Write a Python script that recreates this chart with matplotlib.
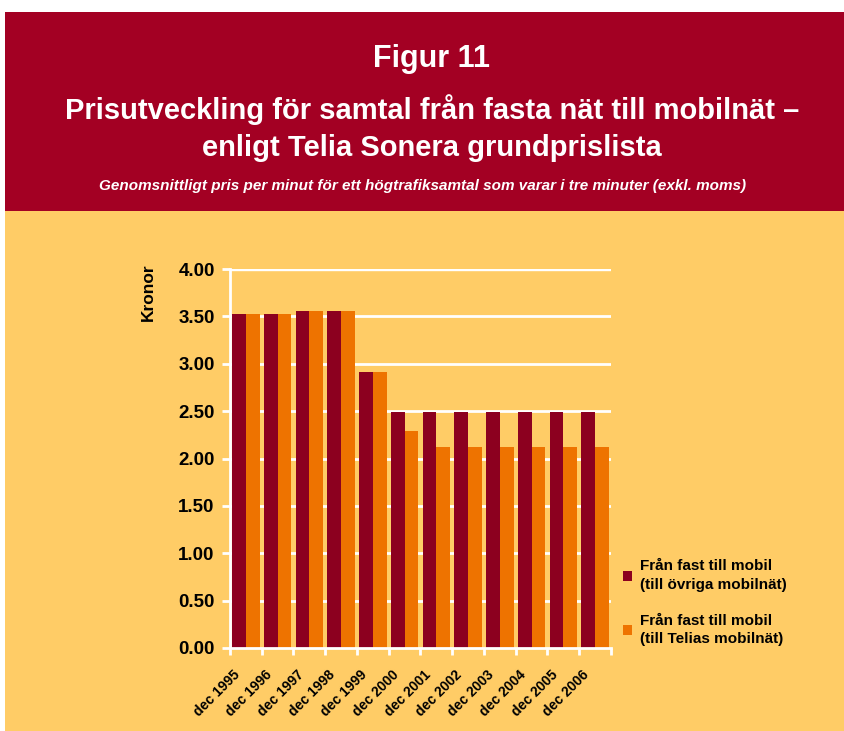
import matplotlib
matplotlib.use("Agg")
import matplotlib.pyplot as plt
import numpy as np
from matplotlib.patches import Rectangle
import matplotlib.transforms as mtransforms

categories = ["dec 1995", "dec 1996", "dec 1997", "dec 1998", "dec 1999", "dec 2000",
              "dec 2001", "dec 2002", "dec 2003", "dec 2004", "dec 2005", "dec 2006"]
ovriga = [3.53, 3.53, 3.56, 3.56, 2.91, 2.49, 2.49, 2.49, 2.49, 2.49, 2.49, 2.49]
telia = [3.53, 3.53, 3.56, 3.56, 2.91, 2.29, 2.12, 2.12, 2.12, 2.12, 2.12, 2.12]
series_names = ["Från fast till mobil\n(till övriga mobilnät)",
                "Från fast till mobil\n(till Telias mobilnät)"]
yticks = [0.0, 0.5, 1.0, 1.5, 2.0, 2.5, 3.0, 3.5, 4.0]

plt.rcParams['font.family'] = ['Liberation Sans', 'DejaVu Sans']

W, H = 845, 731
fig = plt.figure(figsize=(W / 100, H / 100), dpi=100)
fig.patch.set_facecolor("white")

RED = "#A30023"
YEL = "#FFCC66"
BAR_RED = "#8C001F"
BAR_OR = "#EE7300"

def fx(px):
    return px / W

def fy(py):
    return 1 - py / H

# background panels
fig.add_artist(Rectangle((fx(5), fy(211)), fx(840), (211 - 12) / H, transform=fig.transFigure,
                         facecolor=RED, edgecolor="none", zorder=0))
fig.add_artist(Rectangle((fx(5), 0), fx(840), fy(211), transform=fig.transFigure,
                         facecolor=YEL, edgecolor="none", zorder=0))

fig.text(fx(432), fy(59), "Figur 11", color="white", fontsize=22, fontweight="bold",
         ha="center", va="center")
fig.text(fx(432), fy(128), "Prisutveckling för samtal från fasta nät till mobilnät –\nenligt Telia Sonera grundprislista",
         color="white", fontsize=21, fontweight="bold", ha="center", va="center", linespacing=1.38)
fig.text(fx(423), fy(186), "Genomsnittligt pris per minut för ett högtrafiksamtal som varar i tre minuter (exkl. moms)",
         color="white", fontsize=11, fontweight="bold", style="italic", ha="center", va="center")

# axes: x 230..611, y 269..648
ax = fig.add_axes([fx(230), fy(648), fx(611 - 230), (648 - 269) / H])
ax.set_facecolor("none")
x = np.arange(len(categories))
bw = 0.43
ax.bar(x - bw / 2, ovriga, width=bw, color=BAR_RED, label=series_names[0], zorder=3)
ax.bar(x + bw / 2, telia, width=bw, color=BAR_OR, label=series_names[1], zorder=3)

ax.set_xlim(-0.5, len(categories) - 0.5)
ax.set_ylim(0, 4.0)
ax.set_yticks(yticks)
ax.set_yticklabels([f"{v:.2f}" for v in yticks], fontsize=13.5, fontweight="bold")
for v in yticks[1:]:
    ax.axhline(v, color="white", lw=2, zorder=1)
ax.axhline(3.985, color="white", lw=1, zorder=1)

for s in ["top", "right"]:
    ax.spines[s].set_visible(False)
for s in ["left", "bottom"]:
    ax.spines[s].set_color("white")
    ax.spines[s].set_linewidth(2)
    ax.spines[s].set_zorder(4)

ax.tick_params(axis="y", colors="white", length=6, width=2, labelcolor="black", pad=5)
ax.set_xticks(x)
ax.set_xticklabels(categories, rotation=45, ha="right", rotation_mode="anchor",
                   fontsize=10, fontweight="bold")
ax.tick_params(axis="x", length=0, labelcolor="black", pad=10)
offset = mtransforms.ScaledTranslation(-13 / 100, -6 / 100, fig.dpi_scale_trans)
for lab in ax.get_xticklabels():
    lab.set_transform(lab.get_transform() + offset)
ax.set_xticks(np.arange(-0.5, len(categories), 1.0), minor=True)
ax.tick_params(axis="x", which="minor", colors="white", length=5, width=2)

ax.set_ylabel("Kronor", fontsize=12.5, fontweight="bold")
ax.yaxis.set_label_coords(-0.195, 0.94)

leg = ax.legend(loc="upper left", bbox_to_anchor=(0.995, 0.27), frameon=False,
                prop={"weight": "bold", "size": 11}, handlelength=0.6, handleheight=0.6,
                handletextpad=0.5, labelspacing=1.45)
for t in leg.get_texts():
    t.set_linespacing(1.4)

fig.savefig("out.png", dpi=100)
